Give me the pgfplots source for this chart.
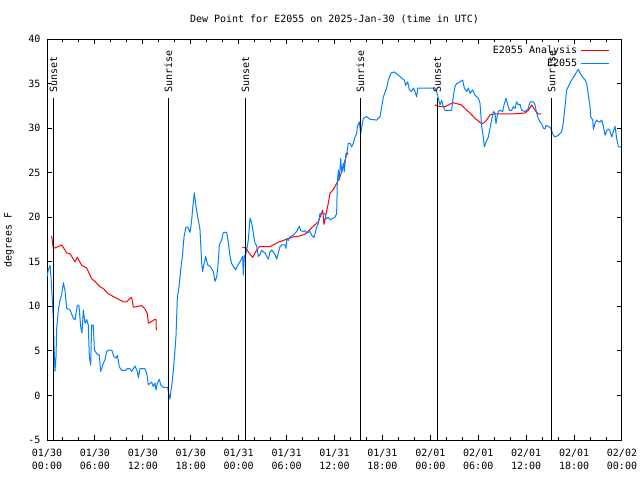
\documentclass[border=0pt]{standalone}
\usepackage{pgfplots}
\pgfplotsset{compat=1.18}
\usepackage{fontspec}
\setmainfont{DejaVu Sans Mono}
\definecolor{anared}{RGB}{255,0,0}
\definecolor{obsblue}{RGB}{0,128,255}
\begin{document}
\begin{tikzpicture}[x=1pt,y=1pt]
\useasboundingbox (0,0) rectangle (640,480);
\begin{axis}[
  at={(47pt,40pt)}, anchor=south west,
  width=575pt, height=401pt, scale only axis,
  xmin=0, xmax=72, ymin=-5, ymax=40,
  xtick={0,6,...,72}, minor x tick num=2,
  xticklabels={{01/30\\00:00},{01/30\\06:00},{01/30\\12:00},{01/30\\18:00},{01/31\\00:00},{01/31\\06:00},{01/31\\12:00},{01/31\\18:00},{02/01\\00:00},{02/01\\06:00},{02/01\\12:00},{02/01\\18:00},{02/02\\00:00}},
  ytick={-5,0,...,40},
  tick align=inside,
  major tick length=5pt, minor tick length=3pt,
  axis line style={line width=1pt},
  every tick/.style={black, line width=1pt},
  /pgf/number format/assume math mode=true,
  tick label style={font=\fontsize{10}{10.5}\selectfont},
  xticklabel style={align=center, yshift=-5.5pt, font=\fontsize{10}{13}\selectfont},
  yticklabel style={xshift=-3pt},
  unbounded coords=jump,
  legend cell align=right, legend plot pos=right,
  legend image code/.code={\draw[#1] (0pt,0pt) -- (28pt,0pt);},
  legend style={at={(0.979,0.985)}, anchor=north east, draw=none, fill=none,
    inner sep=0pt, row sep=2pt, font=\fontsize{10}{10.5}\selectfont,
    nodes={inner ysep=1pt, inner xsep=3.5pt, text height=7pt, text depth=2pt}},
]
\addplot[anared, line width=1pt, line join=round] coordinates {
(0.58,17.9) (0.79,16.5) (1.42,16.7) (1.84,16.9) (2.46,16.0) (2.88,15.9) (3.51,15.0) (3.80,15.5) (4.34,14.6) (4.97,14.3) (5.59,13.1) (6.01,12.8) (6.64,12.2) (7.05,12.0) (7.68,11.4) (8.31,11.1) (8.93,10.8) (9.56,10.5) (9.98,10.5) (10.39,10.9) (10.60,11.0) (10.81,9.9) (11.44,10.0) (11.85,10.1) (12.27,9.7) (12.56,9.2) (12.69,8.1) (13.11,8.3) (13.52,8.55) (13.65,8.5) (13.69,7.3)
(19.0,nan)
(24.45,16.6) (24.92,16.6) (25.21,16.1) (25.75,15.5) (26.25,16.3) (26.59,16.7) (27.92,16.7) (28.34,16.9) (28.97,17.2) (29.59,17.4) (30.22,17.6) (30.85,17.8) (31.68,17.9) (32.31,18.1) (32.93,18.6) (33.35,19.0) (33.98,19.5) (34.52,20.8) (34.69,19.2) (35.02,20.7) (35.23,21.6) (35.44,22.7) (35.85,23.1) (36.27,23.8) (36.69,24.55) (37.11,25.7) (37.32,26.4) (37.52,27.0) (37.73,27.25)
(43.0,nan)
(48.58,32.6) (49.21,32.4) (49.84,32.4) (50.46,32.7) (50.88,32.85) (51.50,32.7) (51.92,32.6) (52.34,32.2) (52.76,31.85) (53.18,31.5) (53.59,31.1) (54.01,30.8) (54.43,30.5) (54.72,30.6) (55.05,30.9) (55.47,31.5) (56.10,31.6) (56.72,31.6) (58.39,31.6) (59.85,31.7) (60.27,32.0) (60.69,32.6) (61.11,32.0) (61.52,31.6) (61.86,31.6)
};
\addlegendentry{E2055 Analysis}
\addplot[obsblue, line width=1pt, line join=round] coordinates {
(0.00,13.3) (0.17,14.1) (0.38,14.6) (0.50,13.3) (0.67,10.7) (0.79,8.5) (0.88,5.5) (1.00,2.7) (1.13,4.35) (1.21,7.5) (1.42,9.6) (1.63,10.7) (1.84,11.3) (2.05,12.65) (2.25,11.8) (2.46,9.8) (2.88,9.6) (3.30,8.65) (3.51,8.5) (3.80,10.15) (4.01,10.0) (4.22,7.7) (4.38,7.0) (4.55,9.6) (4.76,8.1) (4.97,8.5) (5.17,7.9) (5.30,4.35) (5.47,3.4) (5.59,7.9) (5.80,7.9) (5.93,5.1) (6.22,4.7) (6.55,4.5) (6.72,2.7) (7.05,3.6) (7.26,4.0) (7.47,4.9) (7.68,5.1) (8.10,5.1) (8.39,4.35) (8.64,4.2) (8.81,4.5) (9.06,3.2) (9.35,2.8) (9.77,2.8) (10.06,3.0) (10.39,3.0) (10.60,2.7) (11.02,3.3) (11.31,2.7) (11.44,2.0) (11.64,3.0) (12.27,3.0) (12.48,2.5) (12.69,1.2) (13.11,1.5) (13.31,1.0) (13.52,1.4) (13.65,0.6) (13.82,1.4) (14.07,1.8) (14.23,1.2) (14.57,0.9) (15.11,0.9) (15.24,0.24) (15.40,-0.4) (15.53,0.6)
(15.61,0.98) (15.82,2.85) (16.03,5.1) (16.15,6.6) (16.32,10.9) (16.53,12.2) (16.74,14.1) (16.95,15.6) (17.16,17.8) (17.41,18.9) (17.61,18.9) (17.91,18.3) (18.12,19.7) (18.24,21.0) (18.45,22.75) (18.66,21.2) (18.87,20.05) (19.16,18.6) (19.37,14.8) (19.49,13.9) (19.58,14.4) (19.87,15.6) (20.12,14.65) (20.41,14.5) (20.83,13.9) (21.04,12.8) (21.25,13.3) (21.45,15.0) (21.58,16.9) (21.87,17.45) (22.08,18.3) (22.50,18.3) (22.71,17.1) (22.92,15.6) (23.12,14.8) (23.33,14.5) (23.63,14.1) (23.83,14.5) (24.17,15.0) (24.50,15.6) (24.58,13.5) (24.71,15.7)
(24.79,15.5) (25.00,16.3) (25.21,17.45) (25.42,19.9) (25.63,19.35) (25.84,18.2) (26.05,17.1) (26.25,16.8) (26.46,15.6) (26.67,15.8) (26.88,16.3) (27.09,16.1) (27.30,16.0) (27.51,15.6) (27.72,15.3) (27.92,16.1) (28.13,16.3) (28.34,16.1) (28.55,15.8) (28.76,15.3) (28.97,16.0) (29.18,16.7) (29.39,16.9) (29.80,16.9) (29.93,16.5) (30.01,17.6) (30.22,17.4) (30.43,17.8) (30.85,18.0) (31.26,18.4) (31.60,19.0) (31.76,18.5) (32.10,18.4) (32.31,18.5) (32.52,18.2) (32.93,18.4) (33.14,18.0) (33.43,17.7) (33.77,18.9) (33.98,19.3) (34.18,20.4) (34.81,20.4) (34.94,19.8) (35.23,20.0) (35.44,19.7) (36.06,20.0) (36.27,20.4) (36.35,23.8) (36.48,25.3) (36.60,24.2) (36.77,26.6) (36.90,25.0) (37.11,26.05) (37.23,25.1) (37.44,27.2) (37.52,27.0) (37.73,28.3) (37.94,28.3) (38.15,27.9) (38.36,28.3) (38.57,29.0) (38.78,29.4) (38.86,30.15) (39.11,30.7) (39.28,29.4) (39.61,31.1) (40.02,31.3) (40.42,31.0)
(41.28,30.9) (41.70,31.3) (41.91,32.4) (42.12,33.5) (42.53,34.5) (42.74,35.4) (43.08,36.2) (43.49,36.3) (43.78,36.1) (44.20,35.8) (44.41,35.6) (44.74,35.4) (44.91,34.8) (45.16,35.2) (45.37,34.3) (45.66,34.1) (45.87,34.5) (46.08,34.1) (46.29,33.5) (46.42,34.5) (46.71,34.5) (48.59,34.5) (48.79,34.1)
(49.00,33.35) (49.21,32.6) (49.42,33.1) (49.63,32.4) (49.84,32.0) (50.25,32.0) (50.67,32.0) (50.88,33.6) (51.09,34.65) (51.30,35.0) (51.71,35.2) (52.05,35.4) (52.13,35.0) (52.26,34.5) (52.55,34.1) (52.76,34.5) (52.97,33.9) (53.30,34.3) (53.59,33.7) (54.01,33.35) (54.22,32.8) (54.43,30.15) (54.64,29.0) (54.76,27.9) (55.05,28.6) (55.26,29.0) (55.47,30.0) (55.68,30.9) (55.89,31.85) (56.10,31.7) (56.22,30.5) (56.30,31.0) (56.51,31.85) (56.72,32.0) (57.06,31.85) (57.22,32.6) (57.47,33.35) (57.64,32.8) (57.89,32.0) (58.18,32.0) (58.39,32.4) (58.60,32.2) (58.81,32.95) (59.02,32.6) (59.23,32.7) (59.43,32.0) (59.85,31.85) (60.27,32.2) (60.48,32.95) (60.90,32.95) (61.11,32.6) (61.31,31.7) (61.52,31.1) (61.73,30.7) (61.94,30.5) (62.15,30.0) (62.36,29.9) (62.48,30.3) (62.77,30.2) (63.07,30.0) (63.40,29.2) (63.61,29.0) (64.03,29.2) (64.45,29.6) (64.65,30.6) (64.86,32.4) (65.07,34.3) (65.28,34.65) (65.57,35.2) (65.91,35.7) (66.32,36.3) (66.53,36.6) (66.74,36.2) (67.08,35.7) (67.37,35.4) (67.58,35.0) (67.79,33.7) (68.00,32.4) (68.08,31.3) (68.33,30.9) (68.42,29.85) (68.63,30.6) (68.83,30.9) (69.04,30.7) (69.25,30.7) (69.46,30.9) (69.67,30.2) (69.88,29.2) (70.09,29.7) (70.30,29.9) (70.50,29.7) (70.71,29.0) (70.92,29.6) (71.13,30.2) (71.34,28.8) (71.55,27.9) (71.90,27.9)
};
\addlegendentry{E2055}
% sunrise / sunset markers
\addplot[black, line width=1pt, forget plot] coordinates {(0.80,-5) (0.80,33.4)};
\addplot[black, line width=1pt, forget plot] coordinates {(15.20,-5) (15.20,33.4)};
\addplot[black, line width=1pt, forget plot] coordinates {(24.85,-5) (24.85,33.4)};
\addplot[black, line width=1pt, forget plot] coordinates {(39.25,-5) (39.25,33.4)};
\addplot[black, line width=1pt, forget plot] coordinates {(48.88,-5) (48.88,33.4)};
\addplot[black, line width=1pt, forget plot] coordinates {(63.20,-5) (63.20,33.4)};
\node[rotate=90, anchor=west, inner sep=0pt, xshift=1pt, font=\fontsize{10}{10.5}\selectfont] at (axis cs:0.80,33.9) {Sunset};
\node[rotate=90, anchor=west, inner sep=0pt, xshift=1pt, font=\fontsize{10}{10.5}\selectfont] at (axis cs:15.20,33.9) {Sunrise};
\node[rotate=90, anchor=west, inner sep=0pt, xshift=1pt, font=\fontsize{10}{10.5}\selectfont] at (axis cs:24.85,33.9) {Sunset};
\node[rotate=90, anchor=west, inner sep=0pt, xshift=1pt, font=\fontsize{10}{10.5}\selectfont] at (axis cs:39.25,33.9) {Sunrise};
\node[rotate=90, anchor=west, inner sep=0pt, xshift=1pt, font=\fontsize{10}{10.5}\selectfont] at (axis cs:48.88,33.9) {Sunset};
\node[rotate=90, anchor=west, inner sep=0pt, xshift=1pt, font=\fontsize{10}{10.5}\selectfont] at (axis cs:63.20,33.9) {Sunrise};
\end{axis}
\node[font=\fontsize{10}{10.5}\selectfont] at (334.5,461) {Dew Point for E2055 on 2025-Jan-30 (time in UTC)};
\node[rotate=90, font=\fontsize{10}{10.5}\selectfont] at (9,240) {degrees F};
\end{tikzpicture}
\end{document}
